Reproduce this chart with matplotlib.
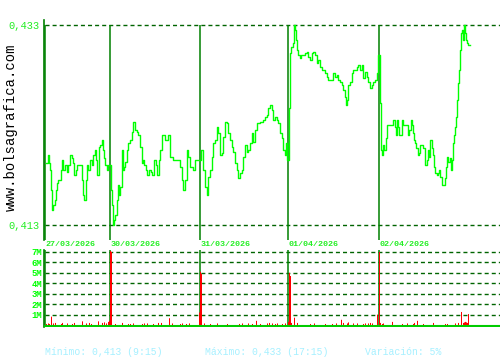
import matplotlib
matplotlib.use("Agg")
import matplotlib.pyplot as plt

# price samples: 5-min slot index and price (5 sessions)
price_slots = [
    1, 3, 4, 5, 6, 7, 8, 10, 11, 12, 13, 16, 17, 18, 20, 22, 23, 25, 27, 28,
    29, 31, 32, 35, 37, 38, 39, 41, 42, 43, 45, 47, 48, 50, 51, 52, 54, 55, 57, 58,
    59, 60, 62, 63, 64,
    66, 67, 68, 69, 70, 72, 73, 74, 75, 77, 78, 79, 80, 82, 83, 85, 87, 88, 90, 92,
    93, 95, 97, 98, 99, 101, 102, 104, 106, 107, 109, 111, 112, 114, 115, 117, 120, 123, 125, 128,
    132, 135, 137, 138, 140, 142, 143, 145, 148, 150, 153,
    156, 158, 160, 162, 163, 165, 167, 168, 170, 172, 173, 175, 177, 178, 180, 182, 183, 185, 187, 188,
    190, 192, 193, 195, 197, 198, 200, 202, 203, 205, 207, 208, 210, 212, 215, 218, 220, 222, 223, 225,
    227, 228, 230, 232, 233, 235, 237, 238, 240, 241, 242,
    244, 245, 246, 248, 249, 250, 251, 252, 253, 255, 256, 260, 262, 263, 265, 267, 268, 270, 272, 273,
    275, 277, 280, 282, 283, 287, 288, 290, 292, 293, 295, 297, 298, 300, 301, 302, 303, 305, 307, 308,
    312, 313, 315, 317, 318, 320, 322, 323, 325, 327, 328, 330, 332, 333,
    335, 336, 337, 338, 339, 341, 342, 345, 348, 350, 351, 352, 353, 354, 356, 357, 358, 362, 363, 364,
    366, 367, 368, 369, 370, 371, 373, 374, 375, 377, 378, 380, 382, 383, 384, 385, 387, 388, 389, 390,
    392, 393, 394, 395, 397, 398, 400, 401, 402, 403, 405, 406, 407, 408, 409, 410, 411, 412, 413, 414,
    415, 416, 417, 418, 419, 420, 421, 422, 423, 425,
]
prices = [
    .4192, .4200, .4192, .4185, .4165, .4145, .4150, .4155, .4165, .4172, .4175, .4185, .4195, .4185, .4190, .4183, .4190, .4200, .4197, .4192,
    .4180, .4185, .4190, .4190, .4175, .4160, .4155, .4175, .4190, .4185, .4195, .4190, .4200, .4205, .4195, .4180, .4208, .4210, .4215, .4205,
    .4197, .4190, .4185, .4190, .4190,
    .4165, .4150, .4130, .4135, .4140, .4155, .4170, .4160, .4168, .4205, .4185, .4188, .4193, .4205, .4212, .4215, .4223, .4233, .4225, .4223,
    .4220, .4208, .4192, .4195, .4190, .4185, .4180, .4185, .4183, .4180, .4195, .4190, .4180, .4195, .4205, .4220, .4215, .4220, .4198, .4195,
    .4195, .4188, .4175, .4165, .4175, .4205, .4198, .4188, .4185, .4195, .4195,
    .4205, .4185, .4168, .4160, .4178, .4185, .4198, .4212, .4215, .4228, .4222, .4200, .4202, .4218, .4233, .4232, .4222, .4215, .4208, .4203,
    .4192, .4185, .4177, .4182, .4185, .4198, .4210, .4203, .4205, .4212, .4222, .4213, .4225, .4232, .4233, .4235, .4238, .4240, .4247, .4250,
    .4245, .4235, .4238, .4235, .4232, .4222, .4217, .4205, .4200, .4212, .4195,
    .4247, .4302, .4308, .4312, .4330, .4325, .4315, .4305, .4300, .4297, .4300, .4302, .4303, .4298, .4295, .4302, .4303, .4300, .4292, .4295,
    .4288, .4285, .4282, .4278, .4275, .4275, .4282, .4278, .4280, .4275, .4273, .4270, .4265, .4258, .4250, .4255, .4270, .4273, .4282, .4285,
    .4288, .4290, .4285, .4290, .4277, .4283, .4278, .4273, .4267, .4270, .4273, .4275, .4282, .4300,
    .4252, .4205, .4200, .4210, .4205, .4217, .4230, .4230, .4235, .4228, .4220, .4235, .4228, .4220, .4220, .4235, .4230, .4230, .4220, .4225,
    .4235, .4230, .4222, .4215, .4212, .4207, .4200, .4202, .4210, .4210, .4207, .4190, .4195, .4205, .4198, .4215, .4207, .4200, .4188, .4182,
    .4180, .4182, .4185, .4178, .4170, .4170, .4177, .4188, .4198, .4193, .4197, .4185, .4195, .4212, .4220, .4228, .4238, .4255, .4272, .4285,
    .4305, .4322, .4325, .4315, .4330, .4322, .4315, .4312, .4310, .4310,
]

# volume per slot, in millions
vol_slots = [
    1, 3, 4, 6, 8, 10, 16, 17, 22, 27, 29, 37, 41, 44, 46, 53, 57, 59, 61, 63,
    64, 65, 66, 70, 77, 83, 85, 88, 97, 99, 102, 108, 113, 116, 124, 127, 135, 137, 141, 144,
    154, 155, 156, 159, 165, 172, 182, 194, 197, 203, 207, 211, 215, 222, 224, 227, 230, 232, 237, 240,
    243, 244, 245, 246, 249, 252, 265, 269, 280, 287, 291, 296, 298, 302, 303, 308, 312, 318, 320, 323,
    325, 327, 332, 334, 335, 337, 338, 347, 357, 362, 368, 369, 372, 378, 388, 400, 402, 410, 413, 416,
    418, 419, 420, 421, 422, 423,
]
volumes = [
    0.1, 0.15, 0.1, 0.8, 0.15, 0.2, 0.1, 0.2, 0.15, 0.1, 0.2, 0.35, 0.15, 0.2, 0.1, 0.35, 0.2, 0.25, 0.15, 0.3,
    0.4, 7.1, 7.0, 0.1, 0.2, 0.1, 0.1, 0.15, 0.1, 0.15, 0.15, 0.1, 0.2, 0.2, 0.65, 0.15, 0.1, 0.15, 0.1, 0.15,
    1.2, 5.1, 4.9, 0.15, 0.1, 0.15, 0.1, 0.1, 0.15, 0.15, 0.1, 0.4, 0.1, 0.15, 0.2, 0.15, 0.1, 0.15, 0.1, 0.15,
    0.3, 5.0, 4.7, 0.2, 0.7, 0.2, 0.1, 0.15, 0.1, 0.1, 0.15, 0.5, 0.2, 0.15, 0.25, 0.15, 0.15, 0.1, 0.15, 0.15,
    0.2, 0.15, 1.0, 7.0, 0.2, 0.1, 0.15, 0.3, 0.1, 0.15, 0.1, 0.2, 0.4, 0.1, 0.2, 0.1, 0.1, 0.15, 0.2, 1.25,
    0.2, 0.25, 0.3, 0.25, 0.2, 1.05,
]

day_starts = [0, 65, 155, 243, 334]
day_labels = ["27/03/2026", "30/03/2026", "31/03/2026", "01/04/2026", "02/04/2026"]
price_ticks = [0.413, 0.433]
price_tick_labels = ["0,413", "0,433"]
vol_ticks = [1, 2, 3, 4, 5, 6, 7]
vol_tick_labels = ["1M", "2M", "3M", "4M", "5M", "6M", "7M"]
footer = ["Mínimo: 0,413 (9:15)", "Máximo: 0,433 (17:15)", "Variación: 5%"]

mono = "Liberation Mono"
line_green = "#00ff00"
dark_green = "#006400"
sep_green = "#008000"
label_green = "#22ee22"
dash = (0, (2.9, 2.2))

fig = plt.figure(figsize=(5, 3.6), dpi=100)
W, H = 500, 360
xlim = (-1, 455)

# price panel
ax = fig.add_axes([44 / W, (H - 240) / H, 456 / W, 220 / H])
ax.set_xlim(*xlim)
ax.set_ylim(0.4115, 0.4335)
for s in ["top", "right", "bottom"]:
    ax.spines[s].set_visible(False)
ax.spines["left"].set_color(sep_green)
ax.spines["left"].set_linewidth(1.2)
ax.set_xticks([])
ax.set_yticks(price_ticks)
ax.set_yticklabels(price_tick_labels, color=label_green, fontfamily=mono, fontsize=7.5)
ax.tick_params(axis="y", length=0, pad=3)
ax.hlines(price_ticks, 0, xlim[1], colors=dark_green, linestyles=dash, lw=1)
ax.vlines(day_starts, 0.4115, 0.433, colors=sep_green, lw=1.1, zorder=3)
ax.plot(price_slots, prices, color=line_green, lw=1, drawstyle="steps-post", zorder=4)
for d, lab in zip(day_starts, day_labels):
    ax.text(d + 0.5, -0.02, lab, transform=ax.get_xaxis_transform(), color=label_green,
            fontfamily=mono, fontsize=6, fontweight="bold", ha="left", va="center")

# volume panel
axv = fig.add_axes([44 / W, (H - 327) / H, 456 / W, 77 / H])
axv.set_xlim(*xlim)
axv.set_ylim(-0.19, 7.19)
for s in ["top", "right", "bottom"]:
    axv.spines[s].set_visible(False)
axv.spines["left"].set_color(sep_green)
axv.spines["left"].set_linewidth(1.2)
axv.set_xticks([])
axv.set_yticks(vol_ticks)
axv.set_yticklabels(vol_tick_labels, color=line_green, fontfamily=mono, fontsize=6.5, fontweight="bold")
axv.tick_params(axis="y", length=0, pad=1)
axv.hlines(vol_ticks, 0, xlim[1], colors=dark_green, linestyles=dash, lw=1)
axv.vlines(day_starts, -0.19, 7.19, colors=sep_green, lw=1.1, zorder=3)
axv.bar(vol_slots, volumes, width=1, align="edge", color="#ff0000", linewidth=0,
        snap=False, zorder=5)
axv.axhline(-0.1, color="#00cc00", lw=1.5, zorder=6)

fig.text(11 / W, 1 - 127 / H, "www.bolsagrafica.com", rotation=90, color="black",
         fontfamily=mono, fontsize=10, ha="center", va="center")

for xpos, txt in zip([45, 205, 365], footer):
    fig.text(xpos / W, 1 - 352 / H, txt, color="#a6f0ff", fontfamily=mono,
             fontsize=7, ha="left", va="center")

fig.savefig("out.png", dpi=100, facecolor="white")
